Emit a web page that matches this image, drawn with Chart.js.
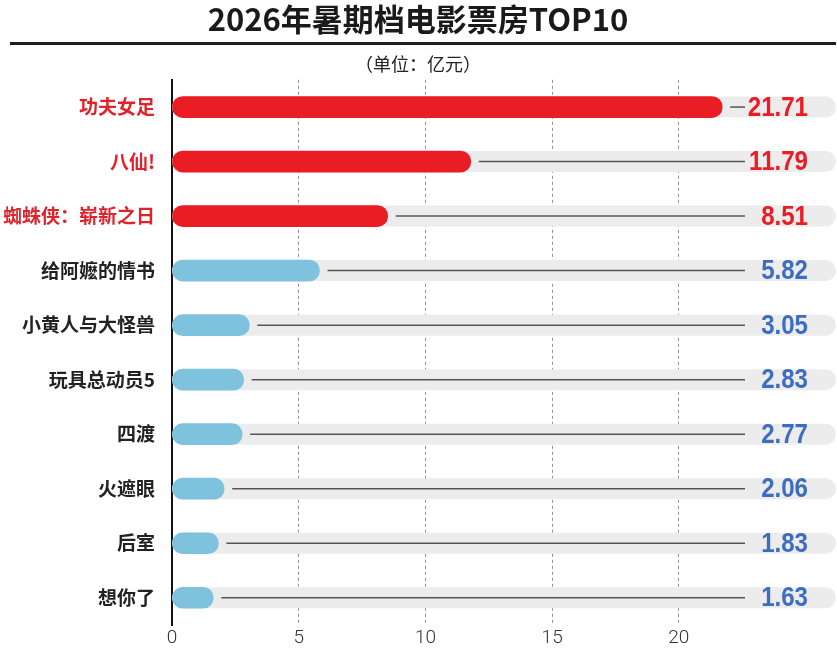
<!DOCTYPE html>
<html>
<head>
<meta charset="utf-8">
<script src="https://cdn.jsdelivr.net/npm/chart.js@4"></script>
<style>
  html, body { margin: 0; padding: 0; background: #fff; }
  #wrap { width: 837px; height: 670px; }
</style>
</head>
<body>
<div id="wrap"><canvas id="boxOffice"></canvas></div>
<script>
// 2026 summer box office, top 10 (unit: 100M yuan)
const films = ['功夫女足', '八仙!', '蜘蛛侠：崭新之日', '给阿嬷的情书', '小黄人与大怪兽',
  '玩具总动员5', '四渡', '火遮眼', '后室', '想你了'];
const gross = [21.71, 11.79, 8.51, 5.82, 3.05, 2.83, 2.77, 2.06, 1.83, 1.63];
const xTicks = [0, 5, 10, 15, 20];

const RED = '#ea1d25';
const BLUE_BAR = '#7ec2de';
const BLUE_TEXT = '#3c6dc1';
const TOP_N = 3;

const CJK = '"Noto Sans CJK SC", "Noto Sans", sans-serif';
const NUM = '"Liberation Sans", Arial, sans-serif';

// grey tracks behind bars, leader lines and value labels
const barDecor = {
  id: 'barDecor',
  beforeDatasetsDraw(chart) {
    const { ctx, chartArea } = chart;
    const meta = chart.getDatasetMeta(0);
    ctx.save();
    ctx.fillStyle = '#ececec';
    meta.data.forEach(bar => {
      const h = bar.height;
      ctx.beginPath();
      ctx.roundRect(chartArea.left, bar.y - h / 2, chartArea.right - chartArea.left, h, h / 2);
      ctx.fill();
    });
    ctx.restore();
  },
  afterDraw(chart) {
    const { ctx, chartArea } = chart;
    const meta = chart.getDatasetMeta(0);
    const lineEnd = chartArea.right - 91;
    const textRight = chartArea.right - 28;
    const squeeze = 0.86;
    ctx.save();
    meta.data.forEach((bar, i) => {
      ctx.strokeStyle = '#555';
      ctx.lineWidth = 1.5;
      ctx.beginPath();
      ctx.moveTo(bar.x + 8, bar.y);
      ctx.lineTo(lineEnd, bar.y);
      ctx.stroke();

      // condensed look for the numbers
      ctx.save();
      ctx.translate(textRight, bar.y + 1);
      ctx.scale(squeeze, 1);
      ctx.font = '600 28px ' + NUM;
      ctx.fillStyle = i < TOP_N ? RED : BLUE_TEXT;
      ctx.textAlign = 'right';
      ctx.textBaseline = 'middle';
      ctx.fillText(gross[i].toFixed(2), 0, 0);
      ctx.restore();
    });

    // rule under the title
    ctx.fillStyle = '#1e1e1e';
    ctx.fillRect(10, 42, 826, 3);
    ctx.restore();
  }
};

new Chart(document.getElementById('boxOffice'), {
  type: 'bar',
  data: {
    labels: films,
    datasets: [{
      data: gross,
      backgroundColor: gross.map((v, i) => i < TOP_N ? RED : BLUE_BAR),
      borderRadius: 11,
      borderSkipped: false,
      barThickness: 21
    }]
  },
  options: {
    indexAxis: 'y',
    responsive: true,
    maintainAspectRatio: false,
    animation: false,
    layout: { padding: { left: 0, right: 1, top: 0, bottom: 0 } },
    plugins: {
      legend: { display: false },
      tooltip: { enabled: false },
      title: {
        display: true,
        text: '2026年暑期档电影票房TOP10',
        color: '#1a1a1a',
        font: { family: CJK, size: 31, weight: 'bold' },
        padding: { top: 1, bottom: 15 }
      },
      subtitle: {
        display: true,
        text: '（单位：亿元）',
        color: '#222',
        font: { family: CJK, size: 18 },
        padding: { top: 0, bottom: 5 }
      }
    },
    scales: {
      x: {
        min: 0,
        max: 26.2,
        z: 1,
        afterBuildTicks: scale => { scale.ticks = xTicks.map(v => ({ value: v })); },
        afterFit: scale => { scale.height = 45; },
        border: { display: false, dash: [3, 3] },
        grid: {
          drawTicks: false,
          color: ctx => ctx.tick && ctx.tick.value === 0 ? 'rgba(0,0,0,0)' : '#909090',
          lineWidth: 1
        },
        ticks: {
          padding: 2,
          color: '#333',
          font: { family: 'Roboto, sans-serif', size: 19, weight: 300 }
        }
      },
      y: {
        z: 1,
        afterFit: scale => { scale.width = 172; },
        border: { display: true, color: '#111', width: 2 },
        grid: { display: false },
        ticks: {
          padding: 9,
          color: ctx => ctx.index < TOP_N ? '#e0222a' : '#222',
          font: { family: CJK, size: 19, weight: 'bold' }
        }
      }
    }
  },
  plugins: [barDecor]
});
</script>
</body>
</html>
